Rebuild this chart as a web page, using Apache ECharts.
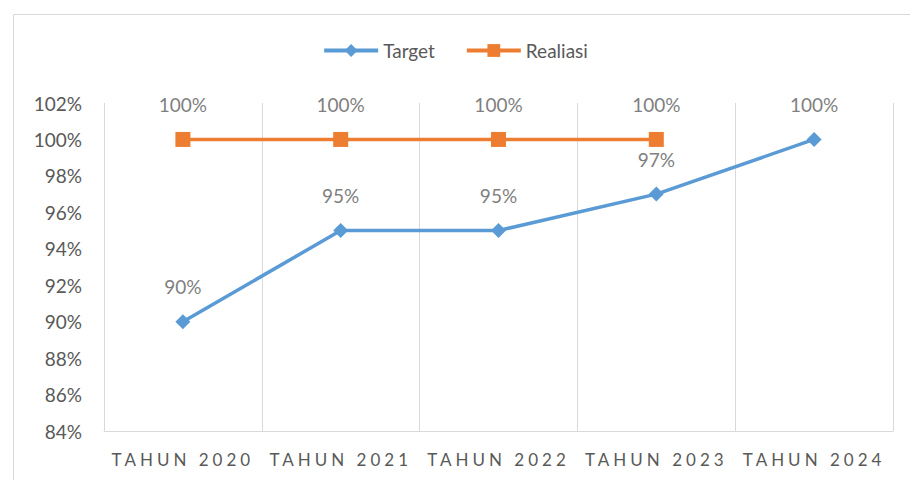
<!DOCTYPE html>
<html>
<head>
<meta charset="utf-8">
<script src="https://cdn.jsdelivr.net/npm/echarts@6/dist/echarts.min.js"></script>
<style>
  html, body { margin: 0; padding: 0; background: #fff; }
  #chart { width: 910px; height: 480px; }
  /* x-axis labels are spaced out in the original */
  #chart text[fill="#595958"] { letter-spacing: 4px; }
</style>
</head>
<body>
<div id="chart"></div>
<script>
// tahun, target dan realiasi (persen)
const years = ["TAHUN 2020", "TAHUN 2021", "TAHUN 2022", "TAHUN 2023", "TAHUN 2024"];
const target = [90, 95, 95, 97, 100];
const realiasi = [100, 100, 100, 100, null];
const yMin = 84, yMax = 102, yStep = 2;

const font = "Lato, 'Open Sans', sans-serif";
const chart = echarts.init(document.getElementById("chart"), null, { renderer: "svg" });

const lbl = {
  show: true, position: "top", distance: 18,
  color: "#7f7f7f", fontSize: 19, fontFamily: font,
  formatter: p => p.value + "%",
};

chart.setOption({
  animation: false,
  backgroundColor: "#fff",
  graphic: [{
    type: "rect", left: 11, top: 12,
    shape: { width: 920, height: 480 },
    style: { fill: "none", stroke: "#d9d9d9", lineWidth: 1 },
  }],
  legend: {
    top: 36, left: "center", itemGap: 30,
    itemWidth: 54, itemHeight: 16,
    lineStyle: { width: 4 },
    textStyle: { color: "#595959", fontSize: 19, fontFamily: font },
    data: ["Target", "Realiasi"],
  },
  grid: { left: 104, right: 17, top: 103, bottom: 49 },
  xAxis: {
    type: "category", data: years, boundaryGap: true,
    axisLine: { lineStyle: { color: "#d9d9d9", width: 1 } },
    axisTick: { show: false },
    splitLine: { show: true, lineStyle: { color: "#d9d9d9", width: 1 } },
    axisLabel: { color: "#595958", fontSize: 17, fontFamily: font, margin: 20 },
  },
  yAxis: {
    type: "value", min: yMin, max: yMax, interval: yStep,
    axisLine: { show: false }, axisTick: { show: false },
    splitLine: { show: false },
    axisLabel: { color: "#595959", fontSize: 19, fontFamily: font, margin: 22, formatter: "{value}%" },
  },
  series: [
    {
      name: "Target", type: "line", data: target,
      symbol: "diamond", symbolSize: 15,
      itemStyle: { color: "#5b9bd5" },
      lineStyle: { color: "#5b9bd5", width: 3.5 },
      label: lbl,
    },
    {
      name: "Realiasi", type: "line", data: realiasi,
      symbol: "rect", symbolSize: 15,
      itemStyle: { color: "#ed7d31" },
      lineStyle: { color: "#ed7d31", width: 3.5 },
      label: lbl,
    },
  ],
});
</script>
</body>
</html>
